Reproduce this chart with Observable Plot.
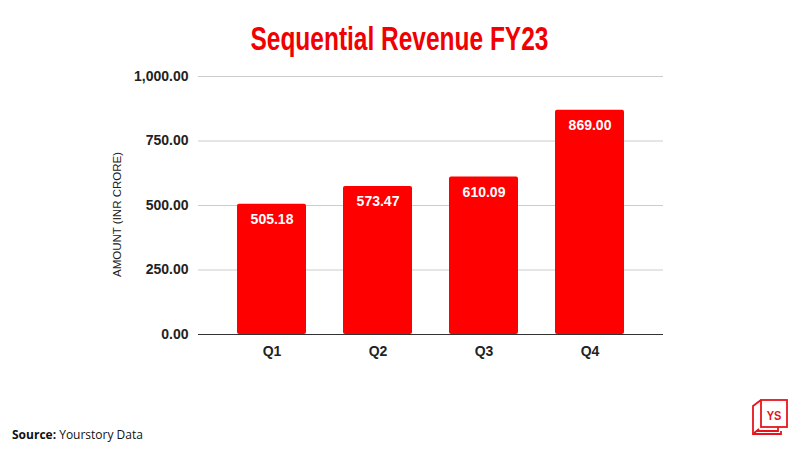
<!DOCTYPE html>
<html>
<head>
<meta charset="utf-8">
<script src="https://cdn.jsdelivr.net/npm/d3@7"></script>
<script src="https://cdn.jsdelivr.net/npm/@observablehq/plot@0.6"></script>
<style>
  html, body { margin: 0; padding: 0; background: #fff; }
  #wrap { position: relative; width: 800px; height: 450px; overflow: hidden; }
  #title { position: absolute; left: 0; width: 800px; top: 19px; text-align: center;
    font-family: "Liberation Sans", Arial, sans-serif;
    font-weight: bold; font-size: 34px; color: #f00000;
    transform: scaleX(0.72); transform-origin: 398px 0; }
  #source { position: absolute; left: 12px; top: 426px; font-family: "Open Sans", sans-serif;
    font-size: 12px; color: #111; }
  #logo { position: absolute; left: 748px; top: 397px; }
  #chart { position: absolute; left: 0; top: 0; }
</style>
</head>
<body>
<div id="wrap">
  <div id="chart"></div>
  <div id="title">Sequential Revenue FY23</div>
  <div id="source"><b>Source:</b> Yourstory Data</div>
  <svg id="logo" width="42" height="40" viewBox="0 0 42 40">
    <g fill="none" stroke="#e8141b" stroke-width="1.8">
      <rect x="13" y="3" width="26" height="27" fill="#fff"/>
      <path d="M13 3 L5 9 L5 37 L33 37 L33 34"/>
      <path d="M5 37 L11 32"/>
      <path d="M9 34 L30 34 L30 30"/>
    </g>
    <text x="26" y="23" text-anchor="middle" font-family="Liberation Sans, Arial, sans-serif" font-weight="bold" font-size="13" fill="#e8141b" transform="translate(26 0) scale(0.85 1) translate(-26 0)">YS</text>
  </svg>
</div>
<script>
const quarters = ["Q1", "Q2", "Q3", "Q4"];
const revenue = [505.18, 573.47, 610.09, 869.00];
const yTicks = [0, 250, 500, 750, 1000];

const data = quarters.map((q, i) => ({quarter: q, value: revenue[i]}));
const fmt = d3.format(",.2f");

const chart = Plot.plot({
  width: 800,
  height: 450,
  marginLeft: 198,
  marginRight: 137,
  marginTop: 76,
  marginBottom: 116,
  style: {fontFamily: "Liberation Sans, Arial, sans-serif", background: "transparent"},
  x: {domain: quarters, padding: 0.35, label: null},
  y: {domain: [0, 1000], label: null},
  marks: [
    Plot.gridY(yTicks, {stroke: "#cccccc", strokeOpacity: 1, strokeWidth: 1}),
    Plot.barY(data, {x: "quarter", y: "value", fill: "#ff0000", rx: 2}),
    Plot.ruleY([0], {stroke: "#333333", strokeWidth: 1}),
    Plot.axisY({ticks: yTicks, tickFormat: fmt, tickSize: 0, tickPadding: 10,
      fontSize: 14, fontWeight: "bold", fill: "#222", label: null}),
    Plot.axisX({tickSize: 0, tickPadding: 12, fontSize: 14, fontWeight: "bold", fill: "#222", label: null}),
    Plot.text(data, {x: "quarter", y: "value", text: d => fmt(d.value), dy: 15,
      fill: "#ffffff", fontSize: 14, fontWeight: "bold"}),
    Plot.text(["AMOUNT (INR CRORE)"], {frameAnchor: "left", textAnchor: "middle", dx: -81, dy: 9, rotate: -90,
      fontSize: 11.5, fill: "#222"})
  ]
});
document.getElementById("chart").appendChild(chart);
</script>
</body>
</html>
